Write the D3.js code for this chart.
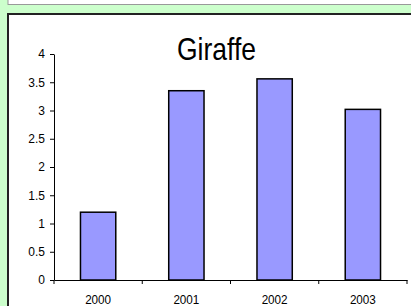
<!DOCTYPE html>
<html>
<head>
<meta charset="utf-8">
<script src="https://cdn.jsdelivr.net/npm/d3@7/dist/d3.min.js"></script>
<style>
  html, body { margin: 0; padding: 0; background: #ccffcc; }
  svg { display: block; }
</style>
</head>
<body>
<svg id="chart"></svg>
<script>
/* data */
const years = ["2000", "2001", "2002", "2003"];
const values = [1.2, 3.35, 3.56, 3.02];
const yTicks = [0, 0.5, 1, 1.5, 2, 2.5, 3, 3.5, 4];
const title = "Giraffe";

/* chart */
!(function() {
  let width = 411;
  let height = 306;
  let plot = { left: 54, right: 407, top: 54, bottom: 280 };
  let font = "'Liberation Sans', Arial, sans-serif";

  let svg = d3.select("#chart")
    .attr("width", width)
    .attr("height", height);

  // frame pieces around the chart
  svg.append("rect")
    .attr("x", 0).attr("y", 0)
    .attr("width", width).attr("height", height)
    .style("fill", "#ccffcc");

  svg.append("rect")
    .attr("x", 8).attr("y", -2)
    .attr("width", width).attr("height", 6.5)
    .style("fill", "#fff")
    .attr("stroke", "#999")
    .attr("stroke-width", 1);

  svg.append("rect")
    .attr("x", 8).attr("y", 14)
    .attr("width", width).attr("height", height)
    .style("fill", "#fff")
    .attr("stroke", "#222")
    .attr("stroke-width", 2);

  // scales
  let x = d3.scaleBand()
    .domain(years)
    .range([plot.left, plot.right])
    .padding(0);

  let y = d3.scaleLinear()
    .domain([0, 4])
    .range([plot.bottom, plot.top]);

  let barW = x.bandwidth() * 0.4;

  svg.selectAll(".bar")
    .data(values)
    .enter().append("rect")
    .attr("class", "bar")
    .attr("x", (d, i) => x(years[i]) + x.bandwidth() / 2 - barW / 2)
    .attr("width", barW)
    .attr("y", d => y(d))
    .attr("height", d => y(0) - y(d))
    .style("fill", "#9999ff")
    .attr("stroke", "#000")
    .attr("stroke-width", 1.5);

  // y axis
  let yAxis = svg.append("g")
    .attr("transform", "translate(" + plot.left + ",0)")
    .call(d3.axisLeft(y)
      .tickValues(yTicks)
      .tickFormat(d => String(d))
      .tickSize(4)
      .tickSizeOuter(0)
      .tickPadding(5));
  yAxis.selectAll("text")
    .style("font-family", font)
    .style("font-size", "12px")
    .style("fill", "#000");
  yAxis.selectAll("line, path").attr("stroke", "#000");

  // x axis
  let xAxis = svg.append("g")
    .attr("transform", "translate(0," + plot.bottom + ")")
    .call(d3.axisBottom(x)
      .tickSize(0)
      .tickSizeOuter(0)
      .tickPadding(15));
  xAxis.selectAll("text")
    .style("font-family", font)
    .style("font-size", "13px")
    .style("fill", "#000")
    .attr("textLength", 26)
    .attr("lengthAdjust", "spacingAndGlyphs");
  xAxis.select("path").attr("stroke", "#000");

  let bounds = years.map(d => x(d)).concat([x.range()[1]]);
  xAxis.selectAll(".bound")
    .data(bounds)
    .enter().append("line")
    .attr("class", "bound")
    .attr("x1", d => d).attr("x2", d => d)
    .attr("y1", 0).attr("y2", 4)
    .attr("stroke", "#000");

  // title
  svg.append("text")
    .attr("x", 216.5)
    .attr("y", 60)
    .attr("text-anchor", "middle")
    .attr("textLength", 79)
    .attr("lengthAdjust", "spacingAndGlyphs")
    .style("font-family", font)
    .style("font-size", "32px")
    .style("fill", "#000")
    .text(title);
})();
</script>
</body>
</html>
